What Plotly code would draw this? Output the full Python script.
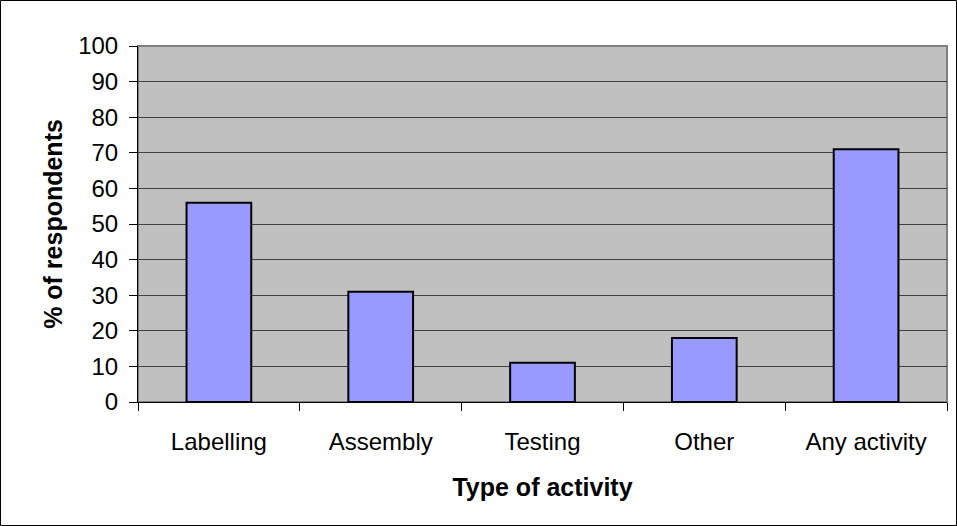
import plotly.graph_objects as go

# data
activities = ["Labelling", "Assembly", "Testing", "Other", "Any activity"]
pct_respondents = [56, 31, 11, 18, 71]
y_ticks = list(range(0, 101, 10))

W, H = 957, 526
margin = {"l": 138, "r": 10, "t": 46, "b": 124}
pw = W - margin["l"] - margin["r"]
ph = H - margin["t"] - margin["b"]

fig = go.Figure(go.Bar(
    x=activities,
    y=pct_respondents,
    marker=dict(color="#9999ff", line=dict(color="black", width=2)),
    width=0.4,
))

font = dict(family="Liberation Sans, Arial, sans-serif", size=24, color="black")

fig.update_layout(
    width=W, height=H,
    margin=margin,
    paper_bgcolor="white",
    plot_bgcolor="#c0c0c0",
    font=font,
    showlegend=False,
    shapes=[
        # grey frame of the plot area
        dict(type="rect", xref="paper", yref="paper", x0=0, x1=1, y0=0, y1=1,
             line=dict(color="#808080", width=2), layer="below"),
        # outer frame of the picture
        dict(type="rect", xref="paper", yref="paper",
             x0=-(margin["l"] - 0.5) / pw, x1=1 + (margin["r"] - 0.5) / pw,
             y0=-(margin["b"] - 0.5) / ph, y1=1 + (margin["t"] - 0.5) / ph,
             line=dict(color="black", width=1)),
    ],
)

fig.update_xaxes(
    type="category",
    tickson="boundaries",
    ticks="outside", ticklen=8, tickcolor="black", tickwidth=1,
    showline=True, linecolor="black", linewidth=1,
    showgrid=False,
    ticklabelstandoff=18,
    title=dict(text="<b>Type of activity</b>", standoff=24, font=dict(size=25)),
)
fig.update_yaxes(
    range=[0, 100],
    tickvals=y_ticks,
    ticks="outside", ticklen=8, tickcolor="black", tickwidth=1,
    showline=True, linecolor="black", linewidth=1,
    showgrid=True, gridcolor="#404040", gridwidth=1,
    zeroline=False,
    ticklabelstandoff=6,
    title=dict(text="<b>% of respondents</b>", standoff=8, font=dict(size=25)),
)

# drop the default page margin so the figure sits at the window's corner
fig.write_html("out.html", config={"displayModeBar": False},
               post_script="document.body.style.margin='0px';")
